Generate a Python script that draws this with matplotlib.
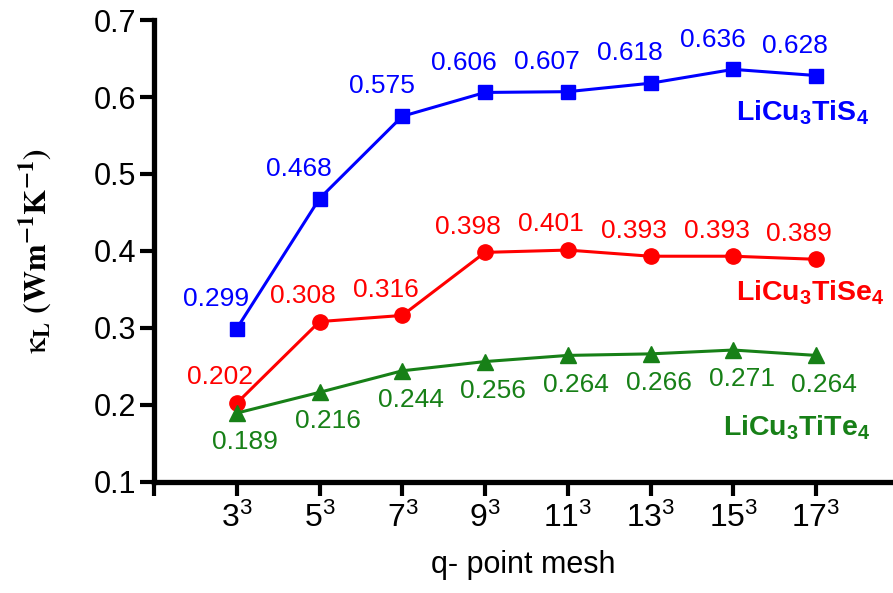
import matplotlib
matplotlib.use('Agg')
import matplotlib.pyplot as plt
import numpy as np

# q-point meshes and lattice thermal conductivity for each compound
meshes = [3, 5, 7, 9, 11, 13, 15, 17]
kappa_s = [0.299, 0.468, 0.575, 0.606, 0.607, 0.618, 0.636, 0.628]
kappa_se = [0.202, 0.308, 0.316, 0.398, 0.401, 0.393, 0.393, 0.389]
kappa_te = [0.189, 0.216, 0.244, 0.256, 0.264, 0.266, 0.271, 0.264]

plt.rcParams['font.family'] = ['Liberation Sans', 'DejaVu Sans']
plt.rcParams['mathtext.fontset'] = 'custom'
plt.rcParams['mathtext.rm'] = 'Liberation Sans'
plt.rcParams['mathtext.it'] = 'Liberation Sans:italic'
plt.rcParams['mathtext.bf'] = 'Liberation Sans:bold'

blue = '#0000ff'
red = '#ff0000'
green = '#178017'

fig = plt.figure(figsize=(8.93, 5.93), dpi=100)
ax = fig.add_axes([0.1725, 0.188, 0.8275, 0.778])

x = np.arange(len(meshes))

ax.plot(x, kappa_s, '-s', color=blue, lw=2.2, ms=10, clip_on=False)
ax.plot(x, kappa_se, '-o', color=red, lw=2.2, ms=11, clip_on=False)
ax.plot(x, kappa_te, '-^', color=green, lw=2.2, ms=11, clip_on=False)

# value labels next to each marker
for xi, v in zip(x, kappa_s):
    ax.annotate(f'{v:.3f}', (xi, v), xytext=(-15, 21.5), textcoords='offset points',
                ha='center', va='center', color=blue, fontsize=19)
for xi, v in zip(x, kappa_se):
    ax.annotate(f'{v:.3f}', (xi, v), xytext=(-12, 18.5), textcoords='offset points',
                ha='center', va='center', color=red, fontsize=19)
for xi, v in zip(x, kappa_te):
    ax.annotate(f'{v:.3f}', (xi, v), xytext=(6, -21), textcoords='offset points',
                ha='center', va='center', color=green, fontsize=19)

# compound names
ax.text(6.84, 0.580, r'$\mathbf{LiCu_{3}TiS_{4}}$', color=blue, fontsize=20.5,
        ha='center', va='center')
ax.text(6.93, 0.346, r'$\mathbf{LiCu_{3}TiSe_{4}}$', color=red, fontsize=20.5,
        ha='center', va='center')
ax.text(6.76, 0.170, r'$\mathbf{LiCu_{3}TiTe_{4}}$', color=green, fontsize=20.5,
        ha='center', va='center')

ax.set_xlim(-1, 7.93)
ax.set_ylim(0.1, 0.7)
ax.set_xticks(np.concatenate([[-1], x]))
ax.set_xticklabels([''] + [f'${m}^{{3}}$' for m in meshes])
ax.set_yticks(np.arange(0.1, 0.71, 0.1))
ax.set_yticklabels([f'{t:.1f}' for t in np.arange(0.1, 0.71, 0.1)])

for side in ['top', 'right']:
    ax.spines[side].set_visible(False)
for side in ['left', 'bottom']:
    ax.spines[side].set_linewidth(3.8)
ax.tick_params(axis='both', direction='out', length=10, width=3)
ax.tick_params(axis='x', pad=5, labelsize=23)
ax.tick_params(axis='y', pad=3, labelsize=22)

ax.set_xlabel('q- point mesh', fontsize=22, labelpad=12)
ax.set_ylabel(r'$\mathrm{\kappa}_{\mathbf{L}}\ \mathbf{(Wm^{-1}K^{-1})}$', fontsize=23,
              math_fontfamily='stix')
ax.yaxis.set_label_coords(-0.136, 0.5)

fig.savefig('out.png', dpi=100, facecolor='white')
